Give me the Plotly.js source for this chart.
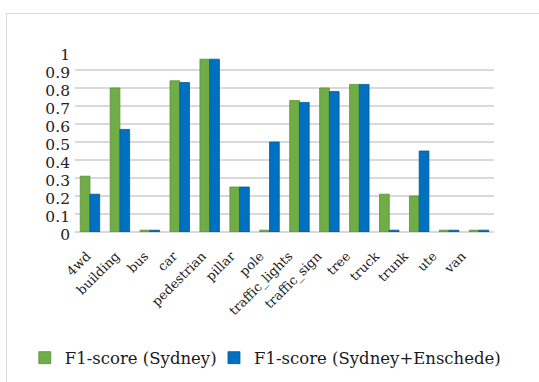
<!DOCTYPE html>
<html>
<head>
<meta charset="utf-8">
<script src="https://cdn.plot.ly/plotly-3.0.1.min.js"></script>
<style>
  html, body { margin: 0; padding: 0; background: #ffffff; overflow: hidden; }
  #frame { position: absolute; left: 6px; top: 13px; width: 620px; height: 420px;
           border: 1px solid #d9d9d9; box-sizing: border-box; }
  #chart { position: absolute; left: 0; top: 0; width: 539px; height: 382px; }
</style>
</head>
<body>
<div id="frame"></div>
<div id="chart"></div>
<script>
// Object classes and per-class F1 scores for the two training setups
const classes = ["4wd", "building", "bus", "car", "pedestrian", "pillar", "pole",
                 "traffic_lights", "traffic_sign", "tree", "truck", "trunk", "ute", "van"];
const f1Sydney    = [0.31, 0.80, 0.01, 0.84, 0.96, 0.25, 0.01, 0.73, 0.80, 0.82, 0.21, 0.20, 0.01, 0.01];
const f1Combined  = [0.21, 0.57, 0.01, 0.83, 0.96, 0.25, 0.50, 0.72, 0.78, 0.82, 0.01, 0.45, 0.01, 0.01];
const yTicks = [0, 0.1, 0.2, 0.3, 0.4, 0.5, 0.6, 0.7, 0.8, 0.9, 1];
const yTickText = ["0", "0.1", "0.2", "0.3", "0.4", "0.5", "0.6", "0.7", "0.8", "0.9", "1"];

const serif = "DejaVu Serif";
const classIndex = classes.map((_, i) => i);

const traces = [
  {
    type: "bar", name: "F1-score (Sydney)", x: classes, y: f1Sydney,
    marker: { color: "#70ad47", line: { color: "#5a8f38", width: 0.8 } },
    legend: "legend", hoverinfo: "x+y"
  },
  {
    type: "bar", name: "F1-score (Sydney+Enschede)", x: classes, y: f1Combined,
    marker: { color: "#0070c0", line: { color: "#005a9a", width: 0.8 } },
    legend: "legend2", hoverinfo: "x+y"
  },
  // empty carrier so the front (label) axis gets drawn
  {
    type: "scatter", mode: "none", x: classIndex, y: classIndex.map(() => 0),
    xaxis: "x2", yaxis: "y", showlegend: false, hoverinfo: "skip"
  }
];

const legendFont = { family: serif, size: 16.5, color: "#1a1a1a" };

const layout = {
  width: 539, height: 382,
  margin: { l: 75, r: 45, t: 52, b: 150 },
  paper_bgcolor: "rgba(0,0,0,0)",
  plot_bgcolor: "rgba(0,0,0,0)",
  font: { family: serif },
  barmode: "group",
  bargap: 0.35,
  bargroupgap: 0,
  showlegend: true,
  legend: {
    orientation: "h", xref: "container", yref: "container",
    x: 0.046, xanchor: "left", y: 0.063, yanchor: "middle",
    font: legendFont
  },
  legend2: {
    orientation: "h", xref: "container", yref: "container",
    x: 0.397, xanchor: "left", y: 0.063, yanchor: "middle",
    font: legendFont
  },
  // bars sit on the primary category axis; labels are carried by a slightly
  // compressed front axis underneath, as in a perspective chart
  xaxis: {
    type: "category",
    showticklabels: false,
    showgrid: false, zeroline: false, showline: false, ticks: "",
    automargin: false
  },
  xaxis2: {
    overlaying: "x", anchor: "y", side: "bottom",
    type: "linear", range: [-0.416, 14.11],
    tickvals: classIndex, ticktext: classes,
    tickangle: -45,
    tickfont: { family: serif, size: 13, color: "#222222" },
    showgrid: false, zeroline: false, showline: false, ticks: "",
    ticklabelstandoff: 13, automargin: false
  },
  yaxis: {
    range: [0, 1],
    tickvals: yTicks, ticktext: yTickText,
    tickfont: { family: serif, size: 15.5, color: "#222222" },
    showgrid: true, gridcolor: "#d9d9d9", gridwidth: 1.5,
    zeroline: true, zerolinecolor: "#d9d9d9", zerolinewidth: 1.5,
    showline: false, ticks: "", ticklabelstandoff: 4, ticklabelshift: 3,
    automargin: false
  }
};

Plotly.newPlot("chart", traces, layout, { displayModeBar: false, staticPlot: true });
</script>
</body>
</html>
